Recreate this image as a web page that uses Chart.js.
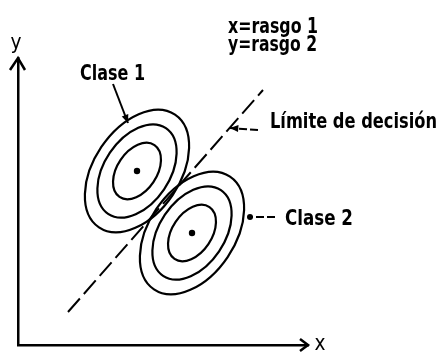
<!DOCTYPE html>
<html><head><meta charset="utf-8">
<script src="https://cdn.jsdelivr.net/npm/chart.js@4.4.1/dist/chart.umd.min.js"></script>
<style>html,body{margin:0;padding:0;background:#fff;}canvas{display:block;}</style>
</head><body>
<canvas id="c" width="441" height="352"></canvas>
<script>
// ---- data (feature space units) ----
const classNames = ['Clase 1', 'Clase 2'];
const classCenterX = [119, 174];
const classCenterY = [174, 112];
const contourLevels = [1.0, 0.76, 0.46];
const contourSemiMajor = [68, 68];
const contourSemiMinor = [43, 43];
const contourTiltDeg = [56, 56];
const boundaryX = [50, 245];
const boundaryY = [33, 255];
const axisTitles = ['x', 'y'];
const featureNotes = ['x=rasgo 1', 'y=rasgo 2'];
const boundaryLabel = 'Límite de decisión';

// ---- layout of annotations (data units) and text widths (px) ----
const FONT = 'bold 21px "DejaVu Sans Condensed", "DejaVu Sans", sans-serif';
const AXFONT = '21px "DejaVu Sans Condensed", "DejaVu Sans", sans-serif';
const notes = {
  class1Text: [62, 265], class1From: [95, 261], class1To: [110, 222],
  class2Text: [267, 120], class2From: [257, 128], class2To: [232, 128],
  bndText: [252, 217], bndFrom: [240, 215], bndTo: [212, 217],
  feat1: [210, 312], feat2: [210, 294],
  yTitle: [-2, 296], xTitle: [302, -5]
};
const textWidth = { class1: 65, class2: 68, bnd: 167, feat1: 90, feat2: 89, ax: 11 };

const annot = {
  id: 'annot',
  afterDatasetsDraw(chart) {
    const ctx = chart.ctx, xs = chart.scales.x, ys = chart.scales.y;
    const P = (p) => [xs.getPixelForValue(p[0]), ys.getPixelForValue(p[1])];
    const unit = xs.getPixelForValue(1) - xs.getPixelForValue(0);
    ctx.save();
    ctx.strokeStyle = '#000'; ctx.fillStyle = '#000';
    // contours
    ctx.lineWidth = 2.2;
    for (let k = 0; k < classCenterX.length; k++) {
      const [cx, cy] = P([classCenterX[k], classCenterY[k]]);
      for (const lv of contourLevels) {
        ctx.beginPath();
        ctx.ellipse(cx, cy, contourSemiMajor[k] * lv * unit, contourSemiMinor[k] * lv * unit,
          -contourTiltDeg[k] * Math.PI / 180, 0, Math.PI * 2);
        ctx.stroke();
      }
    }
    // axis arrowheads
    const ca = chart.chartArea;
    ctx.lineWidth = 2.5;
    ctx.beginPath();
    ctx.moveTo(ca.left - 8, ca.top + 12); ctx.lineTo(ca.left, ca.top); ctx.lineTo(ca.left + 7, ca.top + 12);
    ctx.moveTo(ca.right - 8, ca.bottom - 6); ctx.lineTo(ca.right, ca.bottom); ctx.lineTo(ca.right - 8, ca.bottom + 6);
    ctx.stroke();
    // leaders
    ctx.lineWidth = 2;
    const lead = (from, to, kind, dash) => {
      const a = P(from), b = P(to);
      ctx.setLineDash(dash || []);
      ctx.beginPath(); ctx.moveTo(a[0], a[1]); ctx.lineTo(b[0], b[1]); ctx.stroke();
      ctx.setLineDash([]);
      if (kind === 'arrow') {
        const ang = Math.atan2(b[1] - a[1], b[0] - a[0]);
        ctx.beginPath();
        ctx.moveTo(b[0], b[1]);
        ctx.lineTo(b[0] - 9 * Math.cos(ang - 0.4), b[1] - 9 * Math.sin(ang - 0.4));
        ctx.lineTo(b[0] - 9 * Math.cos(ang + 0.4), b[1] - 9 * Math.sin(ang + 0.4));
        ctx.closePath(); ctx.fill();
      } else {
        ctx.beginPath(); ctx.arc(b[0], b[1], 3, 0, Math.PI * 2); ctx.fill();
      }
    };
    lead(notes.class1From, notes.class1To, 'arrow');
    lead(notes.class2From, notes.class2To, 'dot', [8, 3]);
    lead(notes.bndFrom, notes.bndTo, 'arrow', [8, 3]);
    // texts, fitted horizontally to the reference widths
    const T = (s, p, w, align) => {
      const q = P(p);
      const m = ctx.measureText(s).width;
      const sx = w / m;
      ctx.save();
      ctx.translate(q[0], q[1]);
      ctx.scale(sx, 1);
      ctx.fillText(s, align === 'center' ? -m / 2 : 0, 0);
      ctx.restore();
    };
    ctx.font = FONT; ctx.textBaseline = 'alphabetic'; ctx.textAlign = 'left';
    T(classNames[0], notes.class1Text, textWidth.class1);
    T(classNames[1], notes.class2Text, textWidth.class2);
    T(boundaryLabel, notes.bndText, textWidth.bnd);
    T(featureNotes[0], notes.feat1, textWidth.feat1);
    T(featureNotes[1], notes.feat2, textWidth.feat2);
    ctx.font = AXFONT;
    T(axisTitles[1], notes.yTitle, textWidth.ax, 'center');
    T(axisTitles[0], notes.xTitle, textWidth.ax, 'center');
    ctx.restore();
  }
};

const axisCommon = {
  type: 'linear', display: true,
  ticks: { display: false },
  grid: { display: false, drawTicks: false },
  border: { display: true, color: '#000', width: 2.5 },
  title: { display: false }
};

new Chart(document.getElementById('c'), {
  type: 'scatter',
  data: {
    datasets: [
      {
        label: 'centros',
        data: classCenterX.map((x, i) => ({ x, y: classCenterY[i] })),
        pointRadius: 3.2, pointBackgroundColor: '#000', pointBorderWidth: 0, showLine: false
      },
      {
        label: 'límite',
        data: boundaryX.map((x, i) => ({ x, y: boundaryY[i] })),
        showLine: true, borderColor: '#000', borderWidth: 2, borderDash: [18, 6],
        pointRadius: 0
      }
    ]
  },
  options: {
    responsive: false, animation: false, devicePixelRatio: 1,
    layout: { padding: { left: 18, top: 58, right: 133, bottom: 7 } },
    plugins: { legend: { display: false }, tooltip: { enabled: false } },
    scales: {
      x: { ...axisCommon, min: 0, max: 290 },
      y: { ...axisCommon, min: 0, max: 287 }
    }
  },
  plugins: [annot]
});
</script>
</body></html>
